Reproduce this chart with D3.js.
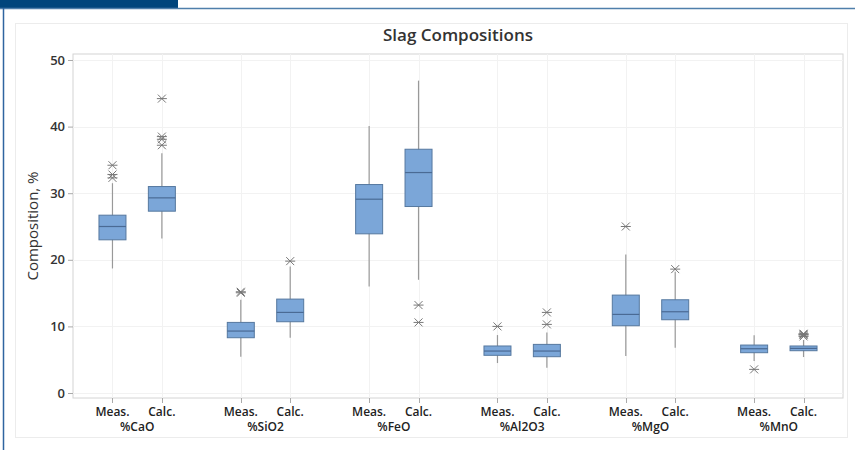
<!DOCTYPE html>
<html>
<head>
<meta charset="utf-8">
<script src="https://cdn.jsdelivr.net/npm/d3@7"></script>
<style>
  body { margin: 0; background: #fff; }
  text { font-family: "Open Sans", "Noto Sans", sans-serif; }
</style>
</head>
<body>
<div id="chart"></div>
<script>
var groups = ["%CaO", "%SiO2", "%FeO", "%Al2O3", "%MgO", "%MnO"];
var kinds = ["Meas.", "Calc."];

// one entry per box, order: group by group, Meas. then Calc.
var whiskLo = [18.7, 23.2, 5.45, 8.3, 16.0, 17.0, 4.5, 3.8, 5.55, 6.8, 4.8, 5.4];
var q1Vals  = [23.0, 27.3, 8.3, 10.7, 23.9, 28.0, 5.66, 5.45, 10.1, 11.0, 6.05, 6.35];
var medVals = [25.0, 29.3, 9.3, 12.1, 29.1, 33.1, 6.3, 6.3, 11.8, 12.2, 6.65, 6.7];
var q3Vals  = [26.7, 31.0, 10.6, 14.1, 31.3, 36.6, 7.06, 7.3, 14.7, 14.0, 7.2, 7.06];
var whiskHi = [31.5, 36.0, 14.0, 19.0, 40.1, 46.9, 8.7, 9.1, 20.8, 18.2, 8.66, 7.96];
var outliers = [
    [34.2, 32.8, 32.3],
    [44.2, 38.5, 38.1, 37.2],
    [15.2, 15.05],
    [19.8],
    [],
    [13.2, 10.6],
    [10.0],
    [12.1, 10.3],
    [25.0],
    [18.6],
    [3.55],
    [8.9, 8.7, 8.5, 8.8]
];
var yTicks = [0, 10, 20, 30, 40, 50];

var W = 855, H = 450;
var plot = {left: 73, right: 843, top: 54, bottom: 398};

var svg = d3.select("#chart").append("svg")
    .attr("width", W)
    .attr("height", H);

// page frame (header band + blue rules)
svg.append("rect").attr("x", 0).attr("y", 0).attr("width", 178).attr("height", 8).attr("fill", "#00457c");
svg.append("line").attr("x1", 0).attr("x2", W).attr("y1", 8.5).attr("y2", 8.5)
    .attr("stroke", "#4f7fab").attr("stroke-width", 1.5);
svg.append("line").attr("x1", 3.5).attr("x2", 3.5).attr("y1", 8).attr("y2", H)
    .attr("stroke", "#2f64a0").attr("stroke-width", 1.5);

// chart panel
svg.append("rect")
    .attr("x", 15.5).attr("y", 23.5).attr("width", 832).attr("height", 414)
    .attr("fill", "#fff").attr("stroke", "#ececec");

var groupScale = d3.scaleBand()
    .domain(groups)
    .range([plot.left, plot.right]);

var kindScale = d3.scalePoint()
    .domain(kinds)
    .range([-24.7, 24.7]);

var y = d3.scaleLinear()
    .domain([-0.75, 50.9])
    .range([plot.bottom, plot.top]);

function boxX(i) {
    var g = groups[Math.floor(i / 2)];
    var k = kinds[i % 2];
    return groupScale(g) + groupScale.bandwidth() / 2 + kindScale(k);
}

var boxIdx = d3.range(q1Vals.length);

// plot area
svg.append("rect")
    .attr("x", plot.left).attr("y", plot.top)
    .attr("width", plot.right - plot.left).attr("height", plot.bottom - plot.top)
    .attr("fill", "#fff").attr("stroke", "#d4d4d4");

// grid
svg.append("g").selectAll("line.hg")
    .data(yTicks)
    .enter().append("line")
    .attr("x1", plot.left).attr("x2", plot.right)
    .attr("y1", function (d) { return Math.round(y(d)) + 0.5; })
    .attr("y2", function (d) { return Math.round(y(d)) + 0.5; })
    .attr("stroke", "#f2f2f2");

svg.append("g").selectAll("line.vg")
    .data(boxIdx)
    .enter().append("line")
    .attr("x1", function (i) { return Math.round(boxX(i)) + 0.5; })
    .attr("x2", function (i) { return Math.round(boxX(i)) + 0.5; })
    .attr("y1", plot.top).attr("y2", plot.bottom)
    .attr("stroke", "#f2f2f2");

// y axis
var yAxis = svg.append("g")
    .attr("transform", "translate(" + plot.left + ",0)")
    .call(d3.axisLeft(y).tickValues(yTicks).tickSize(5).tickSizeOuter(0));
yAxis.select(".domain").remove();
yAxis.selectAll(".tick line").attr("stroke", "#aaa");
yAxis.selectAll(".tick text")
    .attr("x", -8)
    .attr("fill", "#333")
    .style("font-size", "13px")
    .style("font-weight", "600");

// x axis ticks and labels
var xAxis = svg.append("g");
xAxis.selectAll("line")
    .data(boxIdx)
    .enter().append("line")
    .attr("x1", function (i) { return Math.round(boxX(i)) + 0.5; })
    .attr("x2", function (i) { return Math.round(boxX(i)) + 0.5; })
    .attr("y1", plot.bottom).attr("y2", plot.bottom + 5)
    .attr("stroke", "#aaa");
xAxis.selectAll("text.kind")
    .data(boxIdx)
    .enter().append("text")
    .attr("class", "kind")
    .attr("x", function (i) { return boxX(i); })
    .attr("y", plot.bottom + 18)
    .attr("text-anchor", "middle")
    .attr("fill", "#222")
    .style("font-size", "12px")
    .style("font-weight", "600")
    .text(function (i) { return kinds[i % 2]; });
xAxis.selectAll("text.grp")
    .data(groups)
    .enter().append("text")
    .attr("class", "grp")
    .attr("x", function (g) { return groupScale(g) + groupScale.bandwidth() / 2; })
    .attr("y", plot.bottom + 33)
    .attr("text-anchor", "middle")
    .attr("fill", "#222")
    .style("font-size", "12px")
    .style("font-weight", "600")
    .text(function (g) { return g; });

// whiskers
var boxW = 27;
var marks = svg.append("g");
marks.selectAll("line.wh")
    .data(boxIdx)
    .enter().append("line")
    .attr("x1", function (i) { return boxX(i); })
    .attr("x2", function (i) { return boxX(i); })
    .attr("y1", function (i) { return y(whiskLo[i]); })
    .attr("y2", function (i) { return y(whiskHi[i]); })
    .attr("stroke", "#999")
    .attr("stroke-width", 1.2);

// boxes
marks.selectAll("rect.box")
    .data(boxIdx)
    .enter().append("rect")
    .attr("x", function (i) { return boxX(i) - boxW / 2; })
    .attr("y", function (i) { return y(q3Vals[i]); })
    .attr("width", boxW)
    .attr("height", function (i) { return y(q1Vals[i]) - y(q3Vals[i]); })
    .attr("fill", "#7ba6d8")
    .attr("stroke", "#56789f")
    .attr("stroke-width", 1);

// medians
marks.selectAll("line.med")
    .data(boxIdx)
    .enter().append("line")
    .attr("x1", function (i) { return boxX(i) - boxW / 2; })
    .attr("x2", function (i) { return boxX(i) + boxW / 2; })
    .attr("y1", function (i) { return y(medVals[i]); })
    .attr("y2", function (i) { return y(medVals[i]); })
    .attr("stroke", "#4a6a94")
    .attr("stroke-width", 1.2);

// outliers as asterisks
var outPts = [];
outliers.forEach(function (list, i) {
    list.forEach(function (v) { outPts.push({i: i, v: v}); });
});
var star = "M-4,-4L4,4M-4,4L4,-4M-5,0L5,0";
marks.selectAll("path.out")
    .data(outPts)
    .enter().append("path")
    .attr("transform", function (d) { return "translate(" + boxX(d.i) + "," + y(d.v) + ")"; })
    .attr("d", star)
    .attr("fill", "none")
    .attr("stroke", "#777")
    .attr("stroke-width", 1);

// title
svg.append("text")
    .attr("x", (plot.left + plot.right) / 2)
    .attr("y", 41)
    .attr("text-anchor", "middle")
    .attr("fill", "#333")
    .style("font-size", "17px")
    .style("font-weight", "600")
    .text("Slag Compositions");

// y axis label
svg.append("text")
    .attr("transform", "translate(38," + (plot.top + plot.bottom) / 2 + ") rotate(-90)")
    .attr("text-anchor", "middle")
    .attr("fill", "#333")
    .style("font-size", "15px")
    .style("font-weight", "500")
    .text("Composition, %");
</script>
</body>
</html>
